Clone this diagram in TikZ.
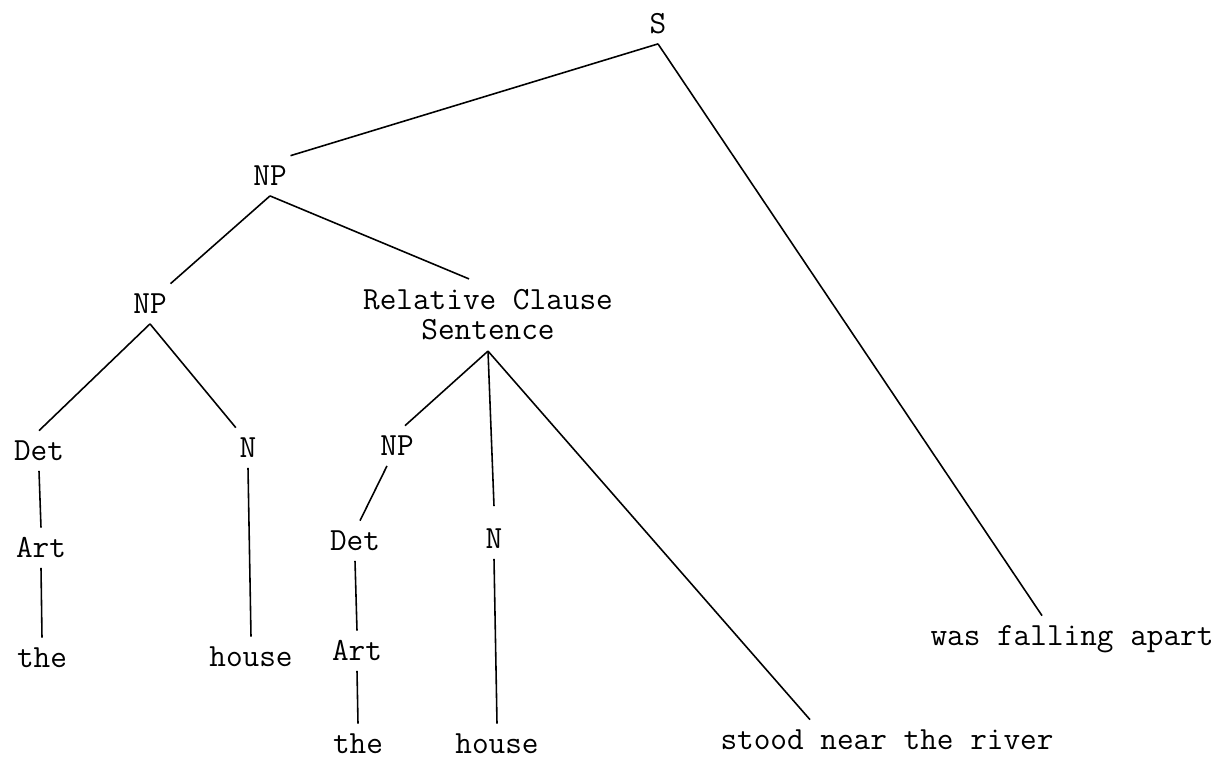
\documentclass[tikz,border=0pt]{standalone}
\usepackage{fontspec}

\begin{document}
\begin{tikzpicture}[x=0.02cm, y=-0.02cm,
    word/.style={font=\fontsize{18.4}{17}\selectfont\ttfamily, anchor=base, inner xsep=2pt, inner ysep=6pt, text height=10.5pt, text depth=0pt},
    branch/.style={line width=0.9pt}]
    \useasboundingbox (0,0) rectangle (1222,758);

    % Sentence and subject
    \node[word] (s) at (658,33) {S};
    \node[word] (np1) at (270,185) {NP};
    \node[word] (np2) at (150,313) {NP};
    \node[word, anchor=center, align=center, text height=, text depth=] (rel) at (488,315) {Relative Clause\\Sentence};

    % Head noun phrase
    \node[word] (det1) at (39,460) {Det};
    \node[word] (n1) at (248,457) {N};
    \node[word] (art1) at (41,557) {Art};
    \node[word] (the1) at (42,667) {the};
    \node[word] (house1) at (251,666) {house};

    % Embedded sentence
    \node[word] (np3) at (397,455) {NP};
    \node[word] (det2) at (355,550) {Det};
    \node[word] (n2) at (494,548) {N};
    \node[word] (art2) at (357,660) {Art};
    \node[word] (the2) at (358,753) {the};
    \node[word] (house2) at (497,753) {house};
    \node[word] (stood) at (887,749) {stood near the river};

    % Predicate
    \node[word] (fall) at (1072,645) {was falling apart};

    % Branches
    \draw[branch] (s.south) -- (np1.north east);
    \draw[branch] (s.south) -- ([xshift=-0.6cm]fall.north);
    \draw[branch] (np1.south) -- (np2.north east);
    \draw[branch] (np1.south) -- ([xshift=-0.38cm]rel.north);
    \draw[branch] (np2.south) -- (det1.north);
    \draw[branch] (np2.south) -- (n1.north west);
    \draw[branch] (det1.south) -- (art1.north);
    \draw[branch] (art1.south) -- (the1.north);
    \draw[branch] (n1.south) -- (house1.north);
    \draw[branch] (rel.south) -- ([xshift=0.16cm]np3.north);
    \draw[branch] (rel.south) -- ([yshift=0.25cm]n2.north);
    \draw[branch] (rel.south) -- ([xshift=-1.54cm]stood.north);
    \draw[branch] ([xshift=-0.2cm]np3.south) -- ([xshift=0.1cm]det2.north);
    \draw[branch] (det2.south) -- (art2.north);
    \draw[branch] (art2.south) -- (the2.north);
    \draw[branch] (n2.south) -- (house2.north);

\end{tikzpicture}
\end{document}
